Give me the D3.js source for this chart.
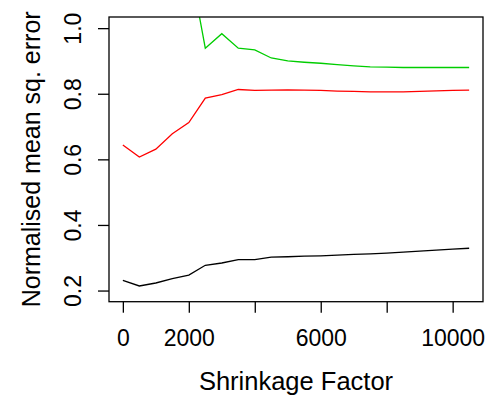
<!DOCTYPE html>
<html>
<head>
<meta charset="utf-8">
<script src="https://cdn.jsdelivr.net/npm/d3@7"></script>
<style>
  body { margin: 0; background: #fff; }
  svg { display: block; font-family: 'Liberation Sans', Arial, sans-serif; }
</style>
</head>
<body>
<svg id="chart"></svg>
<script>
// Shrinkage factor values (x) shared by all three series.
const shrinkage = [0, 500, 1000, 1500, 2000, 2500, 3000, 3500, 4000, 4500, 5000,
  5500, 6000, 6500, 7000, 7500, 8000, 8500, 9000, 9500, 10000, 10500];

// Normalised mean squared error.
const blackErr = [0.231, 0.214, 0.223, 0.236, 0.247, 0.277, 0.284, 0.294, 0.294, 0.302, 0.303,
  0.305, 0.306, 0.308, 0.310, 0.312, 0.314, 0.317, 0.320, 0.323, 0.326, 0.329];
const redErr = [0.644, 0.607, 0.631, 0.678, 0.712, 0.787, 0.797, 0.813, 0.810, 0.811, 0.812,
  0.811, 0.810, 0.808, 0.807, 0.806, 0.806, 0.806, 0.807, 0.809, 0.810, 0.811];
// Green starts above the top of the plot; early values are clipped.
const greenErr = [null, null, null, null, 1.21, 0.939, 0.983, 0.939, 0.934, 0.909, 0.900,
  0.896, 0.893, 0.889, 0.885, 0.882, 0.881, 0.880, 0.880, 0.880, 0.880, 0.880];

const seriesList = [
  { name: 'black', values: blackErr, color: '#000000' },
  { name: 'red', values: redErr, color: '#ff0000' },
  { name: 'green', values: greenErr, color: '#00cd00' },
];

const xTicks = [0, 2000, 4000, 6000, 8000, 10000];
const xTickLabels = ['0', '2000', '', '6000', '', '10000'];
const yTicks = [0.2, 0.4, 0.6, 0.8, 1.0];

const width = 492;
const height = 398;
const plot = { left: 109, right: 483, top: 17, bottom: 301.7 };

const svg = d3.select('#chart')
  .attr('width', width)
  .attr('height', height)
  .attr('viewBox', `0 0 ${width} ${height}`);

// R-style axes: 4% padding around the data range.
const xScale = d3.scaleLinear()
  .domain([-420, 10920])
  .range([plot.left, plot.right]);

const yScale = d3.scaleLinear()
  .domain([0.166, 1.034])
  .range([plot.bottom, plot.top]);

svg.append('clipPath')
  .attr('id', 'plot-clip')
  .append('rect')
  .attr('x', plot.left)
  .attr('y', plot.top)
  .attr('width', plot.right - plot.left)
  .attr('height', plot.bottom - plot.top);

const line = d3.line()
  .defined((d) => d[1] !== null)
  .x((d) => xScale(d[0]))
  .y((d) => yScale(d[1]));

seriesList.forEach((s) => {
  svg.append('path')
    .datum(shrinkage.map((x, i) => [x, s.values[i]]))
    .attr('clip-path', 'url(#plot-clip)')
    .attr('d', line)
    .attr('fill', 'none')
    .attr('stroke', s.color)
    .attr('stroke-width', 1.3);
});

// Box round the plot region.
svg.append('rect')
  .attr('x', plot.left)
  .attr('y', plot.top)
  .attr('width', plot.right - plot.left)
  .attr('height', plot.bottom - plot.top)
  .attr('fill', 'none')
  .attr('stroke', '#000')
  .attr('stroke-width', 1.3);

// X axis.
const xAxis = d3.axisBottom(xScale)
  .tickValues(xTicks)
  .tickSize(11)
  .tickFormat((d, i) => xTickLabels[i]);

const gx = svg.append('g')
  .attr('transform', `translate(0, ${plot.bottom})`)
  .call(xAxis);
gx.select('.domain').remove();
gx.selectAll('.tick line').attr('stroke', '#000').attr('stroke-width', 1.3);
gx.selectAll('.tick text')
  .attr('y', 36)
  .attr('dy', '0.35em')
  .attr('fill', '#000')
  .style('font-size', '23px');

svg.append('text')
  .attr('x', 296)
  .attr('y', 381)
  .attr('dy', '0.35em')
  .attr('text-anchor', 'middle')
  .style('font-size', '25.5px')
  .text('Shrinkage Factor');

// Y axis, labels parallel to the axis.
const yAxis = d3.axisLeft(yScale)
  .tickValues(yTicks)
  .tickSize(11)
  .tickFormat(d3.format('.1f'));

const gy = svg.append('g')
  .attr('transform', `translate(${plot.left}, 0)`)
  .call(yAxis);
gy.select('.domain').remove();
gy.selectAll('.tick line').attr('stroke', '#000').attr('stroke-width', 1.3);
gy.selectAll('.tick text')
  .attr('x', null)
  .attr('dy', null)
  .attr('transform', 'translate(-36, 0) rotate(-90)')
  .attr('text-anchor', 'middle')
  .attr('dominant-baseline', 'central')
  .attr('fill', '#000')
  .style('font-size', '23px');

svg.append('text')
  .attr('transform', `translate(31, ${(plot.top + plot.bottom) / 2}) rotate(-90)`)
  .attr('text-anchor', 'middle')
  .attr('dominant-baseline', 'central')
  .style('font-size', '25px')
  .text('Normalised mean sq. error');
</script>
</body>
</html>
